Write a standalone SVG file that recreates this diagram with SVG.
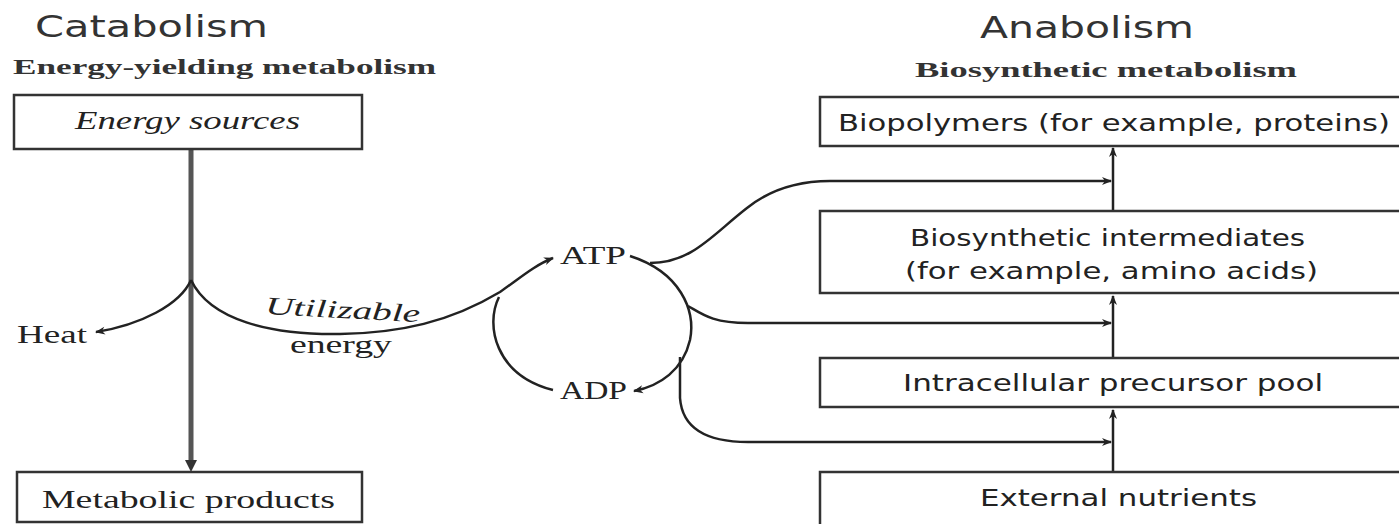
<svg xmlns="http://www.w3.org/2000/svg" width="1399" height="524" viewBox="0 0 1399 524">
<style>
.title{font-family:"DejaVu Sans",sans-serif;font-size:31px;fill:#333}
.sub{font-family:"Liberation Serif",serif;font-weight:bold;font-size:22px;fill:#333}
.lbl{font-family:"Liberation Serif",serif;font-size:25px;fill:#222}
.rl{font-family:"DejaVu Sans",sans-serif;font-size:23px;fill:#222}
.box{fill:#fff;stroke:#333;stroke-width:2.5}
.ln{fill:none;stroke:#222;stroke-width:2.5}
.thick{fill:none;stroke:#555;stroke-width:5}
</style>
<defs>
<marker id="ah" viewBox="0 0 10 10" refX="9" refY="5" markerWidth="12" markerHeight="10" markerUnits="userSpaceOnUse" orient="auto">
<path d="M0,1 L10,5 L0,9 L3,5 Z" fill="#222"/>
</marker>
</defs>
<rect width="1399" height="524" fill="#fff"/>
<text class="title" x="35" y="37" textLength="233" lengthAdjust="spacingAndGlyphs">Catabolism</text>
<text class="sub" x="13" y="74" textLength="423" lengthAdjust="spacingAndGlyphs">Energy-yielding metabolism</text>
<text class="title" x="980" y="38" textLength="214" lengthAdjust="spacingAndGlyphs">Anabolism</text>
<text class="sub" x="915" y="77" textLength="382" lengthAdjust="spacingAndGlyphs">Biosynthetic metabolism</text>

<g id="connectors">
<path class="thick" d="M191,149 L191,466"/>
<path d="M185,460 L191,472 L197,460 Z" fill="#333"/>
<path class="ln" d="M191,280 C180,305 140,325 96,332" marker-end="url(#ah)"/>
<path class="ln" d="M191,280 C210,320 270,335 340,334 C400,333 450,322 500,292 C520,278 535,265 553,258" marker-end="url(#ah)"/>
<path class="ln" d="M499,297 C485,325 495,375 553,390"/>
<path class="ln" d="M630,256 C680,272 696,310 690,340 C683,370 660,386 634,391" marker-end="url(#ah)"/>
<path class="ln" d="M650,263 C692,263 712,235 747,208 C767,192 792,181 830,181 L1111,181" marker-end="url(#ah)"/>
<path class="ln" d="M688,306 C702,314 712,323 748,323 L1111,323" marker-end="url(#ah)"/>
<path class="ln" d="M680,357 L680,398 C682,425 702,442 748,442 L1111,442" marker-end="url(#ah)"/>
<path class="ln" d="M1113,211 L1113,148" marker-end="url(#ah)"/>
<path class="ln" d="M1113,358 L1113,296" marker-end="url(#ah)"/>
<path class="ln" d="M1113,472 L1113,410" marker-end="url(#ah)"/>
</g>

<g id="energy-sources"><rect class="box" x="14" y="95" width="348" height="54"/><text class="lbl" x="75" y="129" font-style="italic" textLength="225" lengthAdjust="spacingAndGlyphs">Energy sources</text></g>
<g id="metabolic-products"><rect class="box" x="17" y="472" width="345" height="50"/><text class="lbl" x="42" y="508" textLength="293" lengthAdjust="spacingAndGlyphs">Metabolic products</text></g>
<g id="heat"><text class="lbl" x="17" y="343" textLength="70" lengthAdjust="spacingAndGlyphs">Heat</text></g>
<g id="utilizable"><text class="lbl" x="265" y="314" font-style="italic" transform="rotate(3 265 314)" textLength="155" lengthAdjust="spacingAndGlyphs">Utilizable</text><text class="lbl" x="290" y="353" textLength="102" lengthAdjust="spacingAndGlyphs">energy</text></g>
<g id="atp"><text class="lbl" x="560" y="264" textLength="66" lengthAdjust="spacingAndGlyphs">ATP</text></g>
<g id="adp"><text class="lbl" x="560" y="399" textLength="67" lengthAdjust="spacingAndGlyphs">ADP</text></g>

<g id="biopolymers"><rect class="box" x="820" y="97" width="590" height="49"/><text class="rl" x="838" y="131" textLength="552" lengthAdjust="spacingAndGlyphs">Biopolymers (for example, proteins)</text></g>
<g id="intermediates"><rect class="box" x="820" y="211" width="590" height="82"/><text class="rl" x="910" y="246" textLength="395" lengthAdjust="spacingAndGlyphs">Biosynthetic intermediates</text><text class="rl" x="905" y="279" textLength="413" lengthAdjust="spacingAndGlyphs">(for example, amino acids)</text></g>
<g id="precursor-pool"><rect class="box" x="820" y="358" width="590" height="49"/><text class="rl" x="903" y="391" textLength="420" lengthAdjust="spacingAndGlyphs">Intracellular precursor pool</text></g>
<g id="external-nutrients"><rect class="box" x="820" y="472" width="590" height="60"/><text class="rl" x="980" y="506" textLength="277" lengthAdjust="spacingAndGlyphs">External nutrients</text></g>
</svg>
